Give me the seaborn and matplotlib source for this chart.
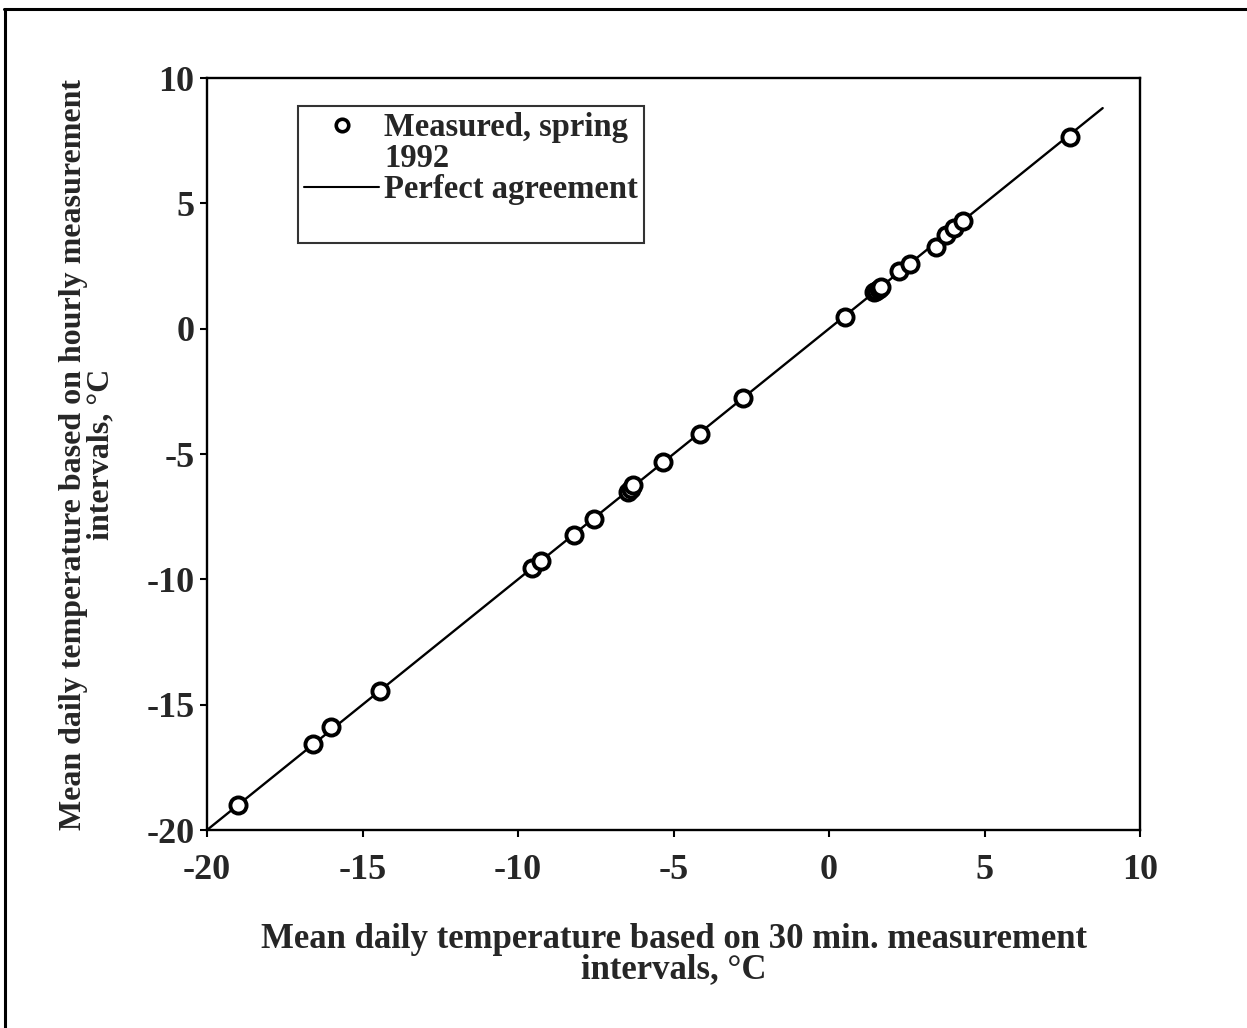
import matplotlib
matplotlib.use("Agg")
import matplotlib.pyplot as plt
from matplotlib.lines import Line2D
import seaborn as sns
import pandas as pd

# Mean daily temperatures, spring 1992 (degrees C)
temp_30min = [-19.0, -16.6, -16.0, -14.45, -9.55, -9.25, -8.2, -7.55,
              -6.45, -6.38, -6.3, -5.35, -4.15, -2.75, 0.5,
              1.45, 1.52, 1.6, 1.68, 2.25, 2.6, 3.45, 3.75, 4.02, 4.3, 7.75]
temp_hourly = [-19.0, -16.55, -15.9, -14.45, -9.55, -9.25, -8.25, -7.6,
               -6.5, -6.38, -6.25, -5.3, -4.2, -2.75, 0.45,
               1.45, 1.52, 1.58, 1.65, 2.3, 2.6, 3.25, 3.75, 4.0, 4.3, 7.65]

# 1:1 reference line
agreement_x = [-20.0, 8.8]
agreement_y = [-20.0, 8.8]

ticks = [-20, -15, -10, -5, 0, 5, 10]

sns.set_style("white")
plt.rcParams["font.family"] = ["Liberation Serif", "DejaVu Serif"]

fig = plt.figure(figsize=(12.47, 10.28), dpi=100)
ax = fig.add_axes([0.166, 0.1926, 0.7482, 0.7315])

points = pd.DataFrame({"x": temp_30min, "y": temp_hourly})
line = pd.DataFrame({"x": agreement_x, "y": agreement_y})

sns.lineplot(data=line, x="x", y="y", ax=ax, color="black", linewidth=1.7,
             zorder=2)
sns.scatterplot(data=points, x="x", y="y", ax=ax, marker="o", s=135,
                facecolor="white", edgecolor="black", linewidth=2.8, zorder=3)

ax.set_xlim(-20, 10)
ax.set_ylim(-20, 10)
ax.set_xticks(ticks)
ax.set_yticks(ticks)
ax.set_xticklabels([str(t) for t in ticks], fontsize=26, fontweight="bold")
ax.set_yticklabels([str(t) for t in ticks], fontsize=26, fontweight="bold")
ax.tick_params(direction="out", length=5, width=1.5, color="black",
               bottom=True, left=True)
ax.tick_params(axis="x", pad=12)
ax.tick_params(axis="y", pad=4)

for s in ax.spines.values():
    s.set_visible(True)
    s.set_color("black")
    s.set_linewidth(1.7)

ax.set_xlabel("Mean daily temperature based on 30 min. measurement\nintervals, °C",
              fontsize=25, fontweight="bold", labelpad=26, linespacing=0.88)
ax.set_ylabel("Mean daily temperature based on hourly measurement\nintervals, °C",
              fontsize=23, fontweight="bold", labelpad=22, linespacing=0.92)

handles = [
    Line2D([], [], linestyle="none", marker="o", markersize=9,
           markerfacecolor="white", markeredgecolor="black", markeredgewidth=2.6),
    Line2D([], [], linestyle="none"),
    Line2D([], [], color="black", linewidth=1.5),
    Line2D([], [], linestyle="none"),
]
labels = ["Measured, spring", "1992", "Perfect agreement", " "]
leg = ax.legend(handles, labels, loc="upper left",
                bbox_to_anchor=(0.097, 0.963), frameon=True, fancybox=False,
                shadow=False, handlelength=2.3, handletextpad=0.15,
                borderpad=0.2, labelspacing=0.0, borderaxespad=0,
                prop={"family": "Liberation Serif", "weight": "bold", "size": 23.5})
frame = leg.get_frame()
frame.set_edgecolor("black")
frame.set_linewidth(1.5)

# page border lines along the top and left edges
fig.add_artist(Line2D([0.003, 1.0], [0.991, 0.991], transform=fig.transFigure,
                      color="black", linewidth=2.2))
fig.add_artist(Line2D([0.004, 0.004], [0.0, 0.991], transform=fig.transFigure,
                      color="black", linewidth=2.2))

fig.savefig("out.png", dpi=100, facecolor="white")
